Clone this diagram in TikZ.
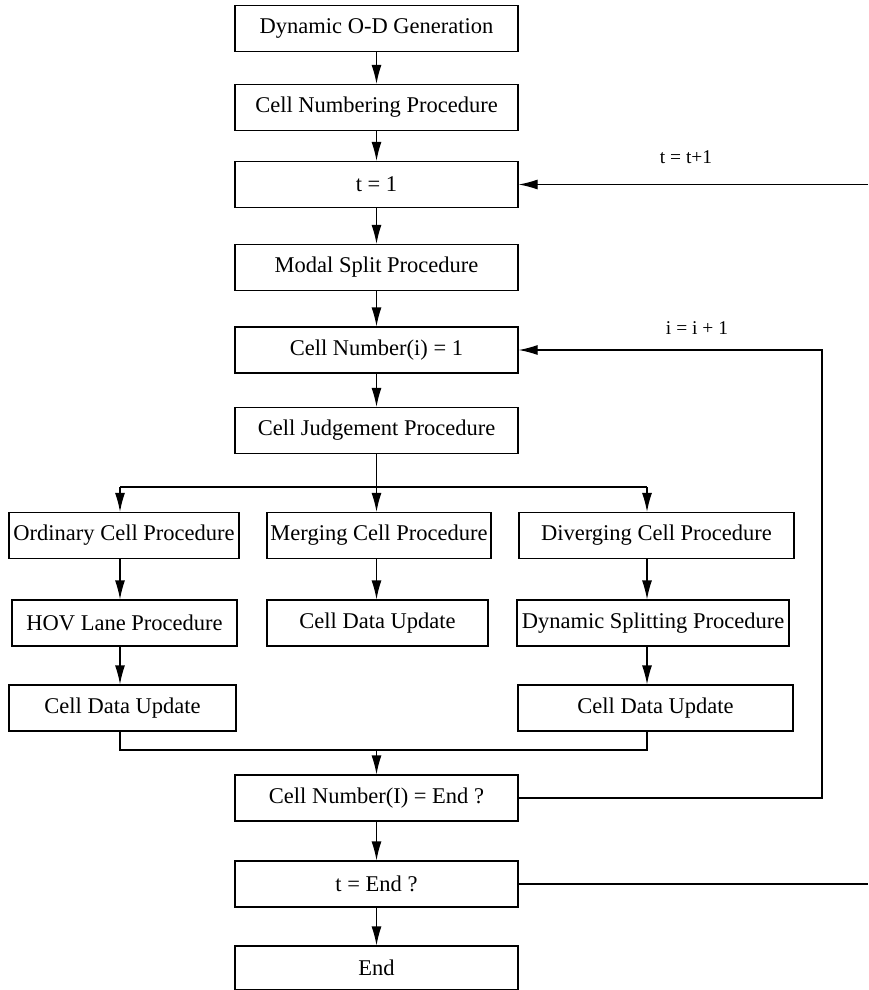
\documentclass[tikz,border=0pt]{standalone}
\usepackage{fontspec}
\setmainfont{Liberation Serif}
\usetikzlibrary{arrows.meta}

\begin{document}
\begin{tikzpicture}[x=1pt,y=-1pt,line width=1.2pt,
    >={Latex[length=19pt,width=10pt]},
    box/.style={draw,minimum height=46pt,inner sep=1pt,font=\fontsize{22.5}{26}\selectfont},
    main/.style={box,minimum width=283pt}]
        \useasboundingbox (0,0) rectangle (868,990);

        \node[main] (OD)  at (376.5,28.5) {Dynamic O-D Generation};
        \node[main] (CN)  at (376.5,107.5) {Cell Numbering Procedure};
        \node[main] (T1)  at (376.5,184.5) {t = 1};
        \node[main] (MS)  at (376.5,267.5) {Modal Split Procedure};
        \node[main] (CNI) at (376.5,350) {Cell Number(i) = 1};
        \node[main] (CJ)  at (376.5,430.5) {Cell Judgement Procedure};

        \node[box,minimum width=230pt] (OCP)  at (124,535.5) {Ordinary Cell Procedure};
        \node[box,minimum width=224pt] (MCP)  at (379,535.5) {Merging Cell Procedure};
        \node[box,minimum width=275pt] (DCP)  at (656.5,535.5) {Diverging Cell Procedure};
        \node[box,minimum width=225pt] (HOV)  at (124.5,623) {HOV Lane Procedure};
        \node[box,minimum width=221pt] (CDU2) at (377.5,623) {Cell Data Update};
        \node[box,minimum width=272pt] (DSP)  at (653,623) {Dynamic Splitting Procedure};
        \node[box,minimum width=227pt] (CDU1) at (122.5,708) {Cell Data Update};
        \node[box,minimum width=275pt] (CDU3) at (655.5,708) {Cell Data Update};

        \node[main] (CNE) at (376.5,798) {Cell Number(I) = End ?};
        \node[main] (TE)  at (376.5,884) {t = End ?};
        \node[main,minimum height=44pt] (END) at (376.5,968) {End};

        \draw[->] (OD) -- (CN);
        \draw[->] (CN) -- (T1);
        \draw[->] (T1) -- (MS);
        \draw[->] (MS) -- (CNI);
        \draw[->] (CNI) -- (CJ);

        % branching into three cell types
        \coordinate (L) at (120,487);
        \coordinate (M) at (376.5,487);
        \coordinate (R) at (647,487);
        \draw (CJ) -- (M);
        \draw (L) -- (R);
        \draw[->] (L) -- (L |- OCP.north);
        \draw[->] (M) -- (M |- MCP.north);
        \draw[->] (R) -- (R |- DCP.north);

        \draw[->] (L |- OCP.south) -- (L |- HOV.north);
        \draw[->] (L |- HOV.south) -- (L |- CDU1.north);
        \draw[->] (M |- MCP.south) -- (M |- CDU2.north);
        \draw[->] (R |- DCP.south) -- (R |- DSP.north);
        \draw[->] (R |- DSP.south) -- (R |- CDU3.north);

        % joining again
        \coordinate (J) at (376.5,750);
        \draw (L |- CDU1.south) -- (J -| L) -- (J -| R) -- (R |- CDU3.south);
        \draw[->] (J) -- (CNE);
        \draw[->] (CNE) -- (TE);
        \draw[->] (TE) -- (END);

        % loops back
        \coordinate (I) at (822,798);
        \draw[->] (CNE) -- (I) -- (I |- CNI) -- (CNI);
        \node at (697,328) {\fontsize{19.5}{22}\selectfont i = i + 1};

        \coordinate (TR) at (868,884);
        \coordinate (TT) at (868,184.5);
        \draw (TE) -- (TR);
        \draw[->] (TT) -- (T1);
        \node at (686,157) {\fontsize{19.5}{22}\selectfont t = t+1};
\end{tikzpicture}
\end{document}
